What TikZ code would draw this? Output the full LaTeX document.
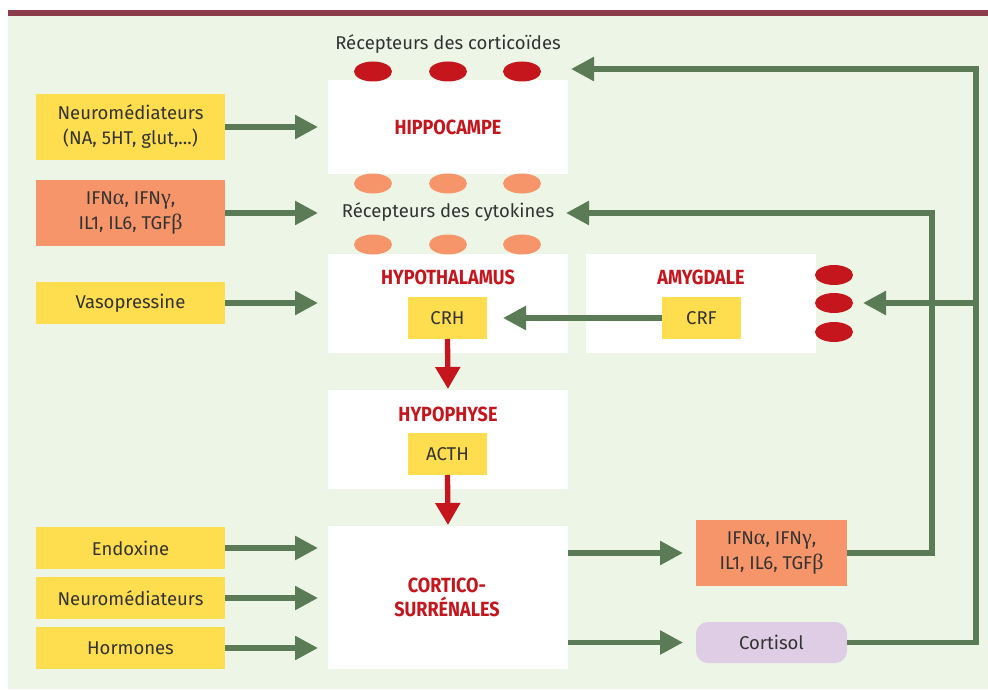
\documentclass[tikz,border=0pt]{standalone}
\usepackage{fontspec}
\setmainfont{Fira Sans}
\newfontfamily\titlefont[FakeStretch=0.88]{Fira Sans}
\newfontfamily\grk{Liberation Serif}
\newcommand{\grA}{{\grk\fontsize{22}{25}\selectfont α}}
\newcommand{\grG}{{\grk\fontsize{22}{25}\selectfont γ}}
\newcommand{\grB}{{\grk\fontsize{22}{25}\selectfont β}}
\usetikzlibrary{arrows.meta,calc,shapes.geometric}
\definecolor{bg}{HTML}{EDF5E6}
\definecolor{topline}{HTML}{8C3D4B}
\definecolor{yel}{HTML}{FEDD4F}
\definecolor{sal}{HTML}{F6956A}
\definecolor{grn}{HTML}{5B7A56}
\definecolor{rd}{HTML}{C4161C}
\definecolor{lil}{HTML}{DFCCE5}
\definecolor{txt}{HTML}{333333}
\begin{document}
\begin{tikzpicture}[x=1pt,y=-1pt,
  every node/.style={inner sep=0pt, outer sep=0pt, text=txt, align=center, font=\fontsize{18.5}{25}\selectfont},
  ybox/.style={fill=yel, minimum width=189pt, minimum height=42pt},
  sbox/.style={fill=sal, minimum width=189pt, minimum height=66pt},
  wbox/.style={fill=white, minimum width=240pt, minimum height=99pt},
  smallbox/.style={fill=yel, minimum width=79pt, minimum height=42pt},
  ttl/.style={text=rd, font=\titlefont\bfseries\fontsize{20.5}{24}\selectfont},
  redell/.style={ellipse, fill=rd, minimum width=38pt, minimum height=20pt},
  orell/.style={ellipse, fill=sal, minimum width=38pt, minimum height=20pt},
  garrow/.style={draw=grn, line width=5.5pt, -{Triangle[length=23pt,width=23pt]}},
  rarrow/.style={draw=rd, line width=5.3pt, -{Triangle[length=22pt,width=24pt]}}
]
\useasboundingbox (0,0) rectangle (988,690);
\fill[white] (0,0) rectangle (988,690);
\fill[bg] (8,15.6) rectangle (988,689);
\fill[topline] (8,10) rectangle (988,15.6);

% left input boxes
\node[ybox, minimum height=66pt] (nm1) at (130.5,127) {Neuromédiateurs\\(NA, 5HT, glut,...)};
\node[sbox] (ifn1) at (130.5,213) {IFN\grA, IFN\grG,\\IL1, IL6, TGF\grB};
\node[ybox] (vaso) at (130.5,303) {Vasopressine};
\node[ybox] (endo) at (130.5,548) {Endoxine};
\node[ybox] (nm2) at (130.5,598) {Neuromédiateurs};
\node[ybox] (horm) at (130.5,648) {Hormones};

% central column
\node[wbox, minimum height=93pt] (hippo) at (448,127) {};
\node[ttl] at (448,127) {HIPPOCAMPE};
\node[wbox] (hypo) at (448,303.5) {};
\node[ttl] at (448,277) {HYPOTHALAMUS};
\node[smallbox] (crh) at (447.5,318) {CRH};
\node[wbox] (hypoph) at (448,439.5) {};
\node[ttl] at (448,414) {HYPOPHYSE};
\node[smallbox] (acth) at (447.5,454) {ACTH};
\node[wbox, minimum height=143pt] (cortico) at (448,597.5) {};
\node[ttl] at (447,597) {CORTICO-\\SURRÉNALES};

% amygdale
\node[wbox, minimum width=230pt] (amyg) at (701,303.5) {};
\node[ttl] at (701,277) {AMYGDALE};
\node[smallbox] (crf) at (701.5,318) {CRF};

% outputs
\node[fill=sal, minimum width=151pt, minimum height=66pt] (ifn2) at (771.5,553) {IFN\grA, IFN\grG,\\IL1, IL6, TGF\grB};
\node[fill=lil, rounded corners=12pt, minimum width=151pt, minimum height=41pt] (cortisol) at (771.5,642.5) {Cortisol};

% receptor labels
\node (rcort) at (448,44) {Récepteurs des corticoïdes};
\node (rcyt) at (448,212) {Récepteurs des cytokines};

% receptors
\foreach \x/\n in {373/a,448/b,522/c}{
  \node[redell] (rc\n) at (\x,71.5) {};
  \node[orell] (oc\n) at (\x,183.5) {};
  \node[orell] (od\n) at (\x,244.5) {};
}
\foreach \y/\n in {275/a,303/b,332/c}{
  \node[redell] (ra\n) at (834,\y) {};
}

% coordinates
\coordinate (hipar) at (571,69);
\coordinate (cytar) at (566,213);
\coordinate (amyar) at (863,303);
\coordinate (br) at (976,303);

% input arrows
\draw[garrow, shorten >=10pt] (nm1.east) -- (nm1.east -| hippo.west);
\draw[garrow, shorten >=10pt] (ifn1.east) -- (ifn1.east -| hippo.west);
\draw[garrow, shorten >=10pt] (vaso.east) -- (vaso.east -| hypo.west);
\draw[garrow, shorten >=10pt] (endo.east) -- (endo.east -| cortico.west);
\draw[garrow, shorten >=10pt] (nm2.east) -- (nm2.east -| cortico.west);
\draw[garrow, shorten >=10pt] (horm.east) -- (horm.east -| cortico.west);
\draw[garrow, shorten >=16pt] (crf.west) -- (crh.east);

% output arrows
\draw[garrow, shorten >=13pt] (cortico.east |- ifn2.west) -- (ifn2.west);
\draw[garrow, shorten >=13pt] (cortico.east |- cortisol.west) -- (cortisol.west);

% red axis arrows
\draw[rarrow, shorten >=1pt] (crh.south) -- (hypoph.north);
\draw[rarrow, shorten >=1pt] (acth.south) -- (cortico.north);

% feedback loops
\draw[garrow] (ifn2.east) -- (932,553) -- (932,213) -- (cytar);
\draw[garrow] (cortisol.east) -- (976,642.5) -- (976,69) -- (hipar);
\draw[garrow] (br) -- (amyar);
\end{tikzpicture}
\end{document}
